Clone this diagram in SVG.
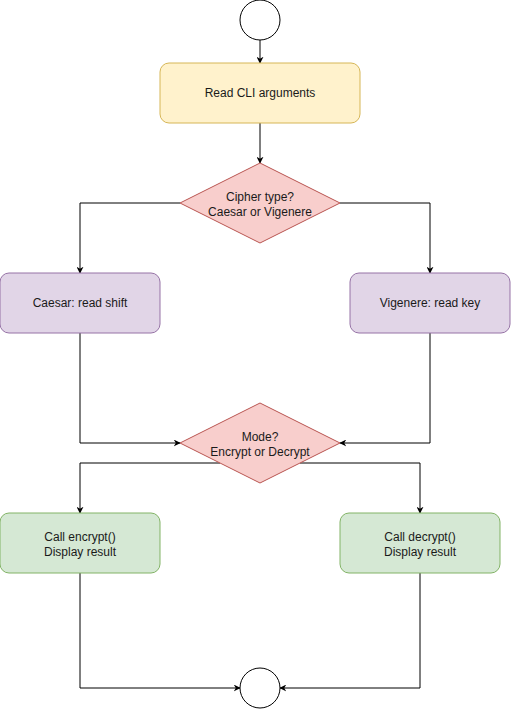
<svg xmlns="http://www.w3.org/2000/svg" width="511" height="711" viewBox="0 0 511 711">
<style>
.t{font-family:"Liberation Sans",Arial,sans-serif;font-size:12px;fill:#1a1a1a;text-anchor:middle}
.c{fill:none;stroke:#000;stroke-width:1}
.y{fill:#fff2cc;stroke:#d6b656}
.r{fill:#f8cecc;stroke:#b85450}
.p{fill:#e1d5e7;stroke:#9673a6}
.g{fill:#d5e8d4;stroke:#82b366}
.o{fill:#fff;stroke:#000}
</style>
<defs>
<marker id="a" viewBox="0 0 10 10" refX="9" refY="5" markerWidth="7" markerHeight="7" orient="auto" markerUnits="userSpaceOnUse">
<path d="M0,0 L10,5 L0,10 L3,5 Z" fill="#000"/>
</marker>
</defs>
<rect width="511" height="711" fill="#fff"/>
<g id="connectors">
<path class="c" d="M260,40 V63" marker-end="url(#a)"/>
<path class="c" d="M260,123 V163" marker-end="url(#a)"/>
<path class="c" d="M180,203 H80 V273" marker-end="url(#a)"/>
<path class="c" d="M340,203 H430 V273" marker-end="url(#a)"/>
<path class="c" d="M80,333 V443 H180" marker-end="url(#a)"/>
<path class="c" d="M430,333 V443 H340" marker-end="url(#a)"/>
<path class="c" d="M220,463 H80 V513" marker-end="url(#a)"/>
<path class="c" d="M300,463 H420 V513" marker-end="url(#a)"/>
<path class="c" d="M80,573 V688 H240" marker-end="url(#a)"/>
<path class="c" d="M420,573 V688 H280" marker-end="url(#a)"/>
</g>
<g id="start"><circle class="o" cx="260" cy="20" r="20"/></g>
<g id="read-cli"><rect class="y" x="160" y="63" width="200" height="60" rx="9"/><text class="t" x="260" y="97">Read CLI arguments</text></g>
<g id="cipher-type"><path class="r" d="M260,163 L340,203 L260,243 L180,203 Z"/><text class="t" x="260" y="201">Cipher type?</text><text class="t" x="260" y="216">Caesar or Vigenere</text></g>
<g id="caesar"><rect class="p" x="0" y="273" width="160" height="60" rx="9"/><text class="t" x="80" y="307">Caesar: read shift</text></g>
<g id="vigenere"><rect class="p" x="350" y="273" width="160" height="60" rx="9"/><text class="t" x="430" y="307">Vigenere: read key</text></g>
<g id="mode"><path class="r" d="M260,403 L340,443 L260,483 L180,443 Z"/><text class="t" x="260" y="441">Mode?</text><text class="t" x="260" y="456">Encrypt or Decrypt</text></g>
<g id="encrypt"><rect class="g" x="0" y="513" width="160" height="60" rx="9"/><text class="t" x="80" y="541">Call encrypt()</text><text class="t" x="80" y="556">Display result</text></g>
<g id="decrypt"><rect class="g" x="340" y="513" width="160" height="60" rx="9"/><text class="t" x="420" y="541">Call decrypt()</text><text class="t" x="420" y="556">Display result</text></g>
<g id="end"><circle class="o" cx="260" cy="688" r="20"/></g>
</svg>
